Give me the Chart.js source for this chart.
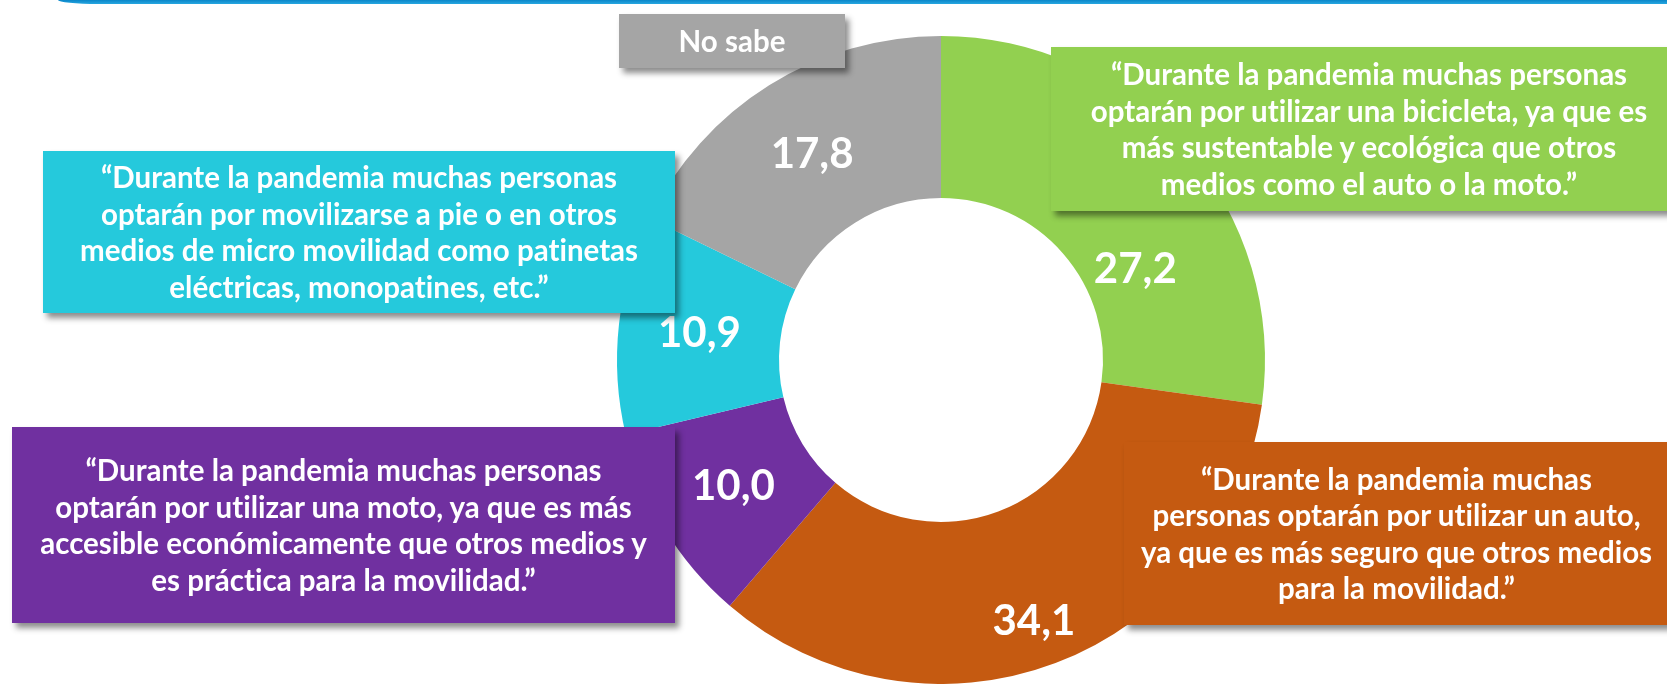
<!DOCTYPE html>
<html>
<head>
<meta charset="utf-8">
<script src="https://cdn.jsdelivr.net/npm/chart.js@4"></script>
<style>
  html, body { margin: 0; padding: 0; background: #fff; }
  #wrap { position: relative; width: 1667px; height: 684px; overflow: hidden; }
  #topline { position: absolute; left: 58px; right: 0; top: 0; height: 4px;
    background: linear-gradient(to bottom, #0a86c9, #27a7e0);
    border-bottom-left-radius: 40px 4px; }
  .box { position: absolute; display: flex; align-items: center; justify-content: center;
    text-align: center; color: #fff; font-family: Lato, "Open Sans", sans-serif; font-weight: 700;
    font-size: 29.5px; line-height: 36.5px; white-space: nowrap; font-variant-ligatures: none;
    box-shadow: 4px 5px 6px rgba(0,0,0,0.45); box-sizing: border-box; }
</style>
</head>
<body>
<div id="wrap">
  <canvas id="myChart" width="1667" height="684"></canvas>
  <div id="topline"></div>
</div>
<script>
// categorias (en el orden del anillo, desde arriba en sentido horario)
var categories = ['Bicicleta', 'Auto', 'Moto', 'A pie / micro movilidad', 'No sabe']
// porcentajes
var values = [27.2, 34.1, 10.0, 10.9, 17.8]
var colors = ['#92d050', '#c55a11', '#7030a0', '#25c9dc', '#a5a5a5']
// textos de los recuadros
var boxTexts = [
  ['“Durante la pandemia muchas personas', 'optarán por utilizar una bicicleta, ya que es', 'más sustentable y ecológica que otros', 'medios como el auto o la moto.”'],
  ['“Durante la pandemia muchas', 'personas optarán por utilizar un auto,', 'ya que es más seguro que otros medios', 'para la movilidad.”'],
  ['“Durante la pandemia muchas personas', 'optarán por utilizar una moto, ya que es más', 'accesible económicamente que otros medios y', 'es práctica para la movilidad.”'],
  ['“Durante la pandemia muchas personas', 'optarán por movilizarse a pie o en otros', 'medios de micro movilidad como patinetas', 'eléctricas, monopatines, etc.”'],
  ['No sabe']
]

// donde va cada recuadro: left, top, width, height
var boxPos = [
  [1051, 47, 636, 164],
  [1124, 442, 545, 183],
  [12, 427, 663, 196],
  [43, 151, 632, 162],
  [619, 14, 226, 54]
]

var wrap = document.getElementById('wrap')
for (let i = 0; i < boxTexts.length; i++) {
  let d = document.createElement('div')
  d.className = 'box'
  d.style.left = boxPos[i][0] + 'px'
  d.style.top = boxPos[i][1] + 'px'
  d.style.width = boxPos[i][2] + 'px'
  d.style.height = boxPos[i][3] + 'px'
  d.style.background = colors[i]
  d.innerHTML = boxTexts[i].join('<br>')
  wrap.appendChild(d)
}

// corrimiento de algunas etiquetas para que no queden bajo los recuadros
var labelShift = [[11, 69], [7, 34], [0, 0], [0, 0], [0, 0]]

var valueLabels = {
  id: 'valueLabels',
  afterDatasetsDraw(chart) {
    var ctx = chart.ctx
    var meta = chart.getDatasetMeta(0)
    ctx.save()
    ctx.fillStyle = '#fff'
    ctx.font = 'bold 42px Lato, "Open Sans", sans-serif'
    ctx.textAlign = 'center'
    ctx.textBaseline = 'middle'
    meta.data.forEach(function(arc, i) {
      var p = arc.tooltipPosition()
      var txt = values[i].toFixed(1).replace('.', ',')
      ctx.fillText(txt, p.x + labelShift[i][0], p.y + labelShift[i][1])
    })
    ctx.restore()
  }
}

var ctx = document.getElementById('myChart').getContext('2d');
var myChart = new Chart(ctx, {
  type: 'doughnut',
  data: {
    labels: categories,
    datasets: [{
      data: values,
      backgroundColor: colors,
      borderWidth: 0
    }]
  },
  options: {
    responsive: false,
    animation: false,
    events: [],
    cutout: '50%',
    layout: { padding: { left: 617, right: 402, top: 36, bottom: 0 } },
    plugins: {
      legend: { display: false },
      tooltip: { enabled: false }
    }
  },
  plugins: [valueLabels]
});
</script>
</body>
</html>
